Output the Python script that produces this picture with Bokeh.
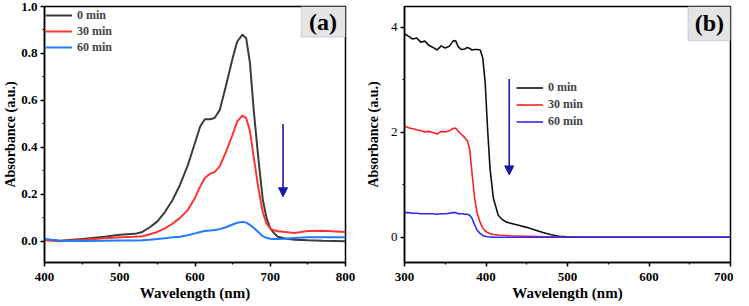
from bokeh.plotting import figure
from bokeh.layouts import row
from bokeh.models import (Range1d, SingleIntervalTicker, NumeralTickFormatter, Legend,
                          Arrow, NormalHead, BoxAnnotation, Label)
from bokeh.embed import file_html
from bokeh.resources import INLINE

# ---------------- data: panel (a) ----------------
wl_a = [400, 420, 450, 480, 500, 520, 530, 540, 550, 560, 570, 580, 590, 600, 607, 613, 620, 626,
        633, 641, 650, 656, 663, 668, 673, 678, 684, 690, 695, 700, 705, 710, 720, 732, 750, 770, 800]
a_0min = [0.008, 0.003, 0.010, 0.020, 0.028, 0.032, 0.040, 0.060, 0.085, 0.125, 0.175, 0.240, 0.320,
          0.420, 0.490, 0.520, 0.520, 0.525, 0.560, 0.660, 0.780, 0.850, 0.880, 0.865, 0.760, 0.560,
          0.360, 0.180, 0.100, 0.055, 0.035, 0.020, 0.012, 0.007, 0.005, 0.003, 0.001]
a_30min = [0.005, 0.000, 0.006, 0.013, 0.018, 0.020, 0.022, 0.030, 0.040, 0.055, 0.075, 0.100, 0.132,
           0.185, 0.235, 0.270, 0.288, 0.295, 0.320, 0.380, 0.455, 0.510, 0.536, 0.525, 0.470, 0.360,
           0.230, 0.125, 0.075, 0.055, 0.047, 0.043, 0.040, 0.036, 0.044, 0.045, 0.040]
a_60min = [0.010, 0.003, 0.002, 0.003, 0.004, 0.004, 0.005, 0.007, 0.010, 0.013, 0.017, 0.020, 0.026,
           0.034, 0.040, 0.044, 0.046, 0.048, 0.052, 0.060, 0.072, 0.079, 0.083, 0.080, 0.070, 0.058,
           0.040, 0.022, 0.015, 0.011, 0.010, 0.010, 0.011, 0.014, 0.018, 0.018, 0.017]

# ---------------- data: panel (b) ----------------
wl_b = [300, 305, 310, 315, 320, 325, 330, 335, 340, 345, 350, 355, 360, 363, 366, 370, 374, 377, 380,
        383, 386, 389, 393, 396, 399, 402, 405, 409, 415, 420, 425, 430, 440, 450, 460, 470, 480, 490,
        500, 520, 550, 600, 650, 700]
b_0min = [3.88, 3.83, 3.78, 3.80, 3.72, 3.74, 3.66, 3.62, 3.57, 3.65, 3.61, 3.64, 3.75, 3.74, 3.63,
          3.58, 3.59, 3.62, 3.60, 3.57, 3.58, 3.58, 3.57, 3.42, 2.95, 2.05, 1.30, 0.75, 0.42, 0.34,
          0.29, 0.27, 0.23, 0.19, 0.14, 0.09, 0.05, 0.02, 0.008, 0.002, 0.0, 0.0, 0.0, 0.0]
b_30min = [2.12, 2.09, 2.07, 2.05, 2.03, 2.01, 2.02, 2.00, 1.97, 2.02, 2.01, 2.03, 2.08, 2.08, 2.02,
           1.96, 1.90, 1.84, 1.68, 1.20, 0.75, 0.47, 0.28, 0.18, 0.12, 0.09, 0.07, 0.055, 0.045, 0.04,
           0.035, 0.03, 0.025, 0.02, 0.015, 0.01, 0.008, 0.005, 0.003, 0.001, 0.0, 0.0, 0.0, 0.0]
b_60min = [0.47, 0.47, 0.46, 0.46, 0.45, 0.45, 0.45, 0.45, 0.44, 0.45, 0.45, 0.46, 0.47, 0.47, 0.45,
           0.45, 0.44, 0.44, 0.42, 0.36, 0.24, 0.14, 0.07, 0.035, 0.02, 0.01, 0.006, 0.003, 0.002,
           0.001, 0.001, 0.0, 0.0, 0.0, 0.0, 0.0, 0.0, 0.0, 0.0, 0.0, 0.0, 0.0, 0.0, 0.0]

series_labels = ["0 min", "30 min", "60 min"]
x_title = "Wavelength (nm)"
y_title = "Absorbance (a.u.)"

SERIF = "Liberation Serif"


def style(p, ytick_bold=True, ylabel_standoff=1):
    p.outline_line_color = "black"
    p.outline_line_width = 1.5
    p.grid.visible = False
    p.background_fill_color = "white"
    p.border_fill_color = "white"
    for ax in (p.xaxis[0], p.yaxis[0]):
        ax.axis_line_width = 1.5
        ax.major_tick_line_width = 1.5
        ax.minor_tick_line_width = 1.2
        ax.major_tick_out = 4
        ax.major_tick_in = 0
        ax.minor_tick_out = 2
        ax.minor_tick_in = 0
        ax.major_label_text_font = SERIF
        ax.major_label_text_font_size = "13px"
        ax.major_label_text_color = "black"
        ax.axis_label_text_font = SERIF
        ax.axis_label_text_font_style = "bold"
        ax.axis_label_text_color = "black"
    p.xaxis[0].major_label_text_font_style = "bold"
    p.yaxis[0].major_label_text_font_style = "bold" if ytick_bold else "normal"
    p.xaxis[0].axis_label_text_font_size = "15px"
    p.yaxis[0].axis_label_text_font_size = "14px"
    p.xaxis[0].major_label_standoff = 6
    p.yaxis[0].major_label_standoff = 3
    p.xaxis[0].axis_label_standoff = 1
    p.yaxis[0].axis_label_standoff = ylabel_standoff
    p.xaxis[0].axis_label = x_title
    p.yaxis[0].axis_label = y_title


H = 303

# ---------------- panel (a) ----------------
p1 = figure(width=362, height=H, output_backend="svg", toolbar_location=None,
            x_range=Range1d(400, 800), y_range=Range1d(-0.09, 1.0),
            min_border_left=35, min_border_right=17, min_border_top=6, min_border_bottom=30)
p1.xaxis.ticker = SingleIntervalTicker(interval=100, num_minor_ticks=2)
p1.yaxis.ticker = SingleIntervalTicker(interval=0.2, num_minor_ticks=2)
p1.yaxis.formatter = NumeralTickFormatter(format="0.0")
style(p1, ytick_bold=True, ylabel_standoff=0)

cols_a = ["#3c3c3c", "#ff3535", "#1f7bff"]
ra = []
for ys, c in zip([a_0min, a_30min, a_60min], cols_a):
    ra.append(p1.line(wl_a, ys, line_color=c, line_width=2))
leg_a = Legend(items=[(lab, [r]) for lab, r in zip(series_labels, ra)],
               location="top_left", margin=0, padding=1, spacing=0,
               glyph_width=27, glyph_height=16, label_height=16, label_standoff=5,
               label_text_font=SERIF, label_text_font_style="bold", label_text_font_size="12px",
               border_line_alpha=0, background_fill_alpha=0)
p1.add_layout(leg_a)

p1.add_layout(BoxAnnotation(left=741, right=800, bottom=0.87, top=1.0,
                            fill_color="#e4e4e4", fill_alpha=1,
                            line_color="#7d9cc4", line_width=1.2))
p1.add_layout(Label(x=770, y=0.935, text="(a)", text_font=SERIF, text_font_style="bold",
                    text_font_size="24px", text_align="center", text_baseline="middle",
                    text_color="black"))
p1.add_layout(Arrow(x_start=717, y_start=0.5, x_end=717, y_end=0.19,
                    line_color="#1a1aa6", line_width=1.6,
                    end=NormalHead(size=9, fill_color="#1a1aa6", line_color="#1a1aa6")))

# ---------------- panel (b) ----------------
p2 = figure(width=371, height=H, output_backend="svg", toolbar_location=None,
            x_range=Range1d(300, 700), y_range=Range1d(-0.48, 4.40),
            min_border_left=38, min_border_right=3, min_border_top=0, min_border_bottom=30)
p2.xaxis.ticker = SingleIntervalTicker(interval=100, num_minor_ticks=2)
p2.yaxis.ticker = SingleIntervalTicker(interval=2, num_minor_ticks=2)
style(p2, ytick_bold=False, ylabel_standoff=7)

cols_b = ["#111111", "#ff2222", "#2a2aff"]
rb = []
for ys, c in zip([b_0min, b_30min, b_60min], cols_b):
    rb.append(p2.line(wl_b, ys, line_color=c, line_width=1.6))
leg_b = Legend(items=[(lab, [r]) for lab, r in zip(series_labels, rb)],
               location=(110, 130), margin=0, padding=2, spacing=0,
               glyph_width=27, glyph_height=17, label_height=17, label_standoff=5,
               label_text_font=SERIF, label_text_font_style="bold", label_text_font_size="12px",
               border_line_alpha=0, background_fill_alpha=0)
p2.add_layout(leg_b)

p2.add_layout(BoxAnnotation(left=648, right=700, bottom=3.75, top=4.40,
                            fill_color="#e4e4e4", fill_alpha=1,
                            line_color="#7d9cc4", line_width=1.2))
p2.add_layout(Label(x=674, y=4.08, text="(b)", text_font=SERIF, text_font_style="bold",
                    text_font_size="24px", text_align="center", text_baseline="middle",
                    text_color="black"))
p2.add_layout(Arrow(x_start=428.5, y_start=3.02, x_end=428.5, y_end=1.19,
                    line_color="#1a1aa6", line_width=1.6,
                    end=NormalHead(size=9, fill_color="#1a1aa6", line_color="#1a1aa6")))

layout = row(p1, p2, spacing=0)
open("out.html", "w").write(file_html(layout, INLINE))
